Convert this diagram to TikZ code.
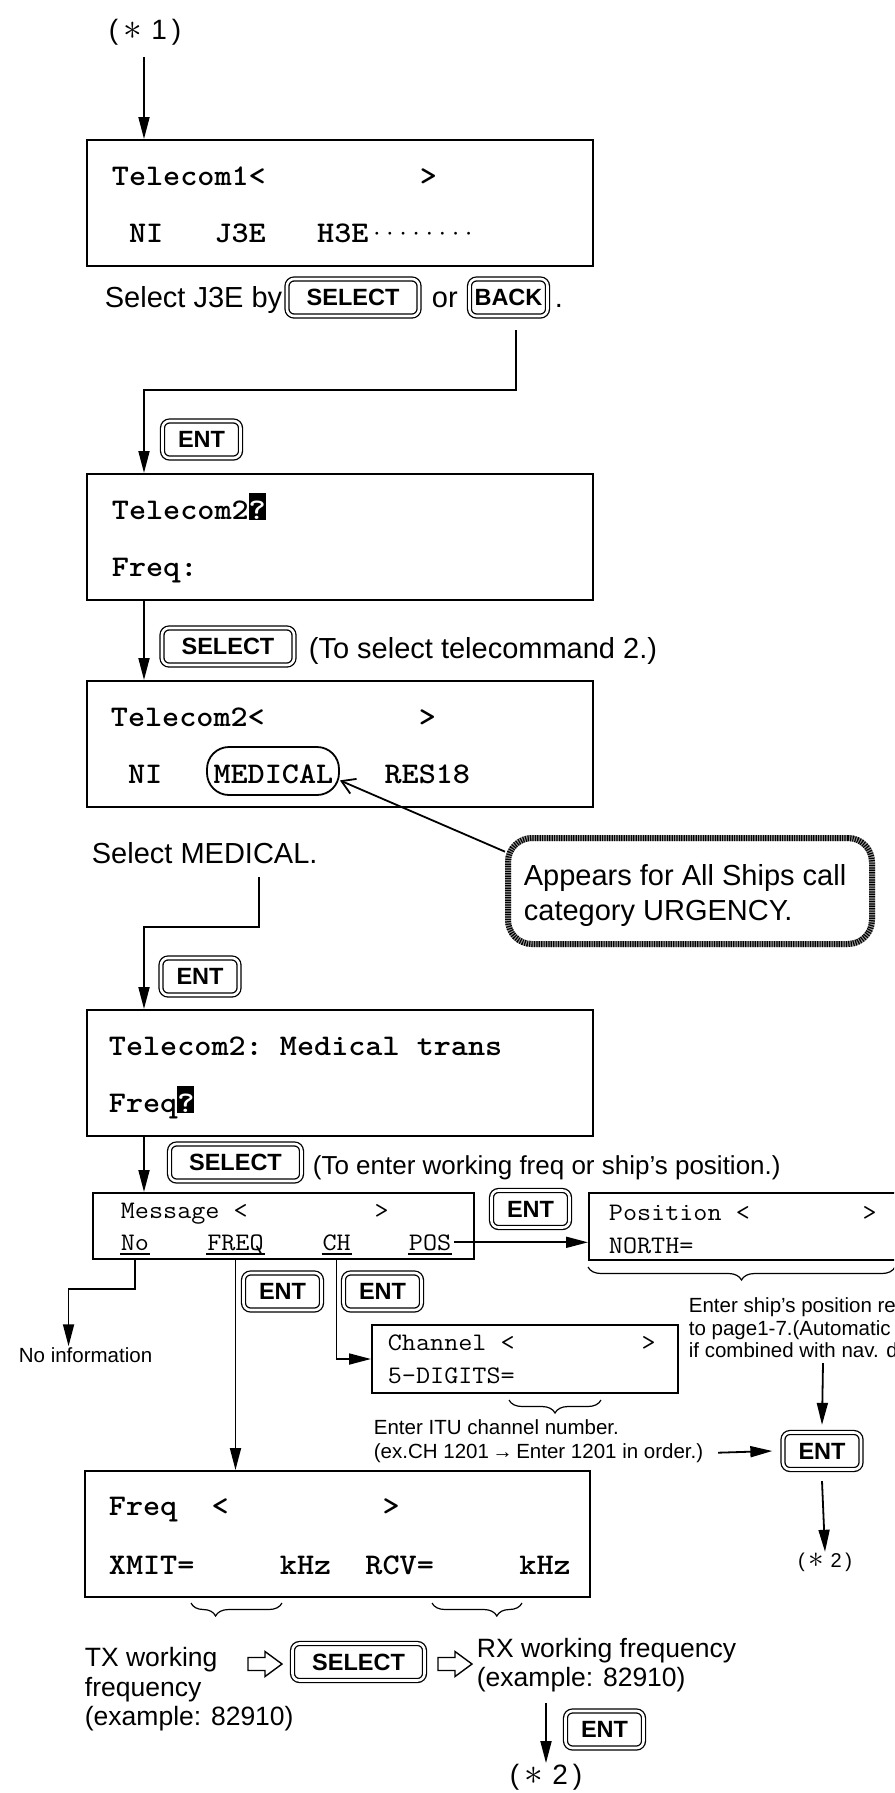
\documentclass[tikz,border=0pt]{standalone}
\usepackage{fontspec}
\usepackage{graphicx}
\setmainfont{Liberation Sans}
\usetikzlibrary{arrows.meta,decorations.pathreplacing}

% LCD lettering: typewriter face, widened to the display cell pitch
\newcommand\wide[1]{\scalebox{1.086}[1]{#1}}
% inverse-video cursor character on the LCD
\newcommand\invchar[1]{{\setlength\fboxsep{0pt}\colorbox{black}{\rule[-1pt]{0pt}{27pt}\textcolor{white}{#1}}}}
% reference marks such as (*1)
\newcommand\refmark[1]{(\hspace{0.2em}\scalebox{1.5}{$\ast$}\hspace{0.32em}#1\hspace{0.18em})}

\begin{document}
\begin{tikzpicture}[x=1pt,y=-1pt,line width=1.8pt,
  arr/.style={-{Triangle[length=22pt,width=11pt]}},
  ptr/.style={-{Straight Barb[length=13pt,width=16pt]}},
  lcdbox/.style={draw,line width=2pt,anchor=north west,inner sep=0pt,minimum width=506pt,minimum height=126pt},
  smallbox/.style={draw,line width=2pt,anchor=north west,inner sep=0pt},
  lcd/.style={anchor=base west,inner sep=0pt,font=\ttfamily\bfseries\fontsize{30}{32}\selectfont},
  lcds/.style={anchor=base west,inner sep=0pt,font=\ttfamily\fontsize{25.2}{27}\selectfont},
  lbl/.style={anchor=base west,inner sep=0pt,font=\fontsize{29}{34}\selectfont},
  lblm/.style={anchor=base west,inner sep=0pt,font=\fontsize{26.5}{30}\selectfont},
  lbls/.style={anchor=base west,inner sep=0pt,font=\fontsize{20.5}{23}\selectfont},
  refnode/.style={inner sep=0pt,font=\fontsize{28}{32}\selectfont},
  key/.style={draw,double,double distance=2.6pt,line width=1.3pt,rounded corners=7pt,
    inner sep=0pt,minimum height=37pt,font=\bfseries\fontsize{23.5}{26}\selectfont},
  entkey/.style={key,minimum width=78pt},
  selkey/.style={key,minimum width=132pt},
  brc/.style={decorate,line width=1.2pt,decoration={brace,mirror,amplitude=13pt,aspect=#1}},
  brc/.default=0.5,
  harrow/.pic={\draw[line width=1.4pt,line join=miter]
    (0,-6.5) -- (17,-6.5) -- (17,-12.5) -- (34,0) -- (17,12.5) -- (17,6.5) -- (0,6.5) -- cycle;}
]
\useasboundingbox (0,0) rectangle (894,1793);
\clip (0,0) rectangle (894,1793);
\fill[white] (0,0) rectangle (894,1793);

\coordinate (trunk) at (144,0);

% ---------- Telecom 1 ----------
\node[refnode] (star1) at (145,32) {\refmark{1}};
\node[lcdbox] (B1) at (86,139) {};
\node[lcd] (b1r1) at (111,185) {\wide{Telecom1<~~~~~~~~~>}};
\node[lcd] (b1r2) at (111,242) {\wide{~NI~~~J3E~~~H3E}};
\node[anchor=base west,inner sep=0pt,font=\ttfamily\fontsize{25.5}{27}\selectfont] (b1dots)
  at ([yshift=1pt]b1r2.base east) {········};

\node[lbl] (selj) at (104,307) {Select J3E by};
\node[selkey] (kSel1) at (353,297.5) {SELECT};
\node[lbl] (orw) at (431,307) {or};
\node[entkey] (kBack) at (508.5,297.5) {BACK};
\node[lbl] (dot1) at (554,307) {.};
\coordinate (jout) at (516,330);
\node[entkey] (kEnt1) at (201.5,439.5) {ENT};

% ---------- Telecom 2 ----------
\node[lcdbox] (B2) at (86,473) {};
\node[lcd] (b2r1) at (111,519) {\wide{Telecom2\invchar{?}}};
\node[lcd] (b2r2) at (111,576) {\wide{Freq:}};

\node[selkey] (kSel2) at (228,646.5) {SELECT};
\node[lbl] (tosel) at (308,658) {(To select telecommand 2.)};

\node[lcdbox] (B3) at (86,680) {};
\node[lcd] (b3r1) at (110,726) {\wide{Telecom2<~~~~~~~~~>}};
\node[lcd] (b3r2) at (110,783) {\wide{~NI~~~MEDICAL~~~RES18}};
\node[draw,rounded corners=22pt,minimum width=132pt,minimum height=48pt,inner sep=0pt] (oval) at (273,771) {};

\node[lbl] (selmed) at (91,863) {Select MEDICAL.};
\coordinate (medout) at (259,877);

% callout
\node[draw=black!40,line width=6pt,rounded corners=24pt,minimum width=364pt,minimum height=106pt,
  postaction={draw=black,line width=6pt,dash pattern=on 1.2pt off 1.2pt}] (callout) at (690,891) {};
\node[lbl] (ap1) at (523,885) {Appears for All Ships call};
\node[lbl] (ap2) at (523,920) {category URGENCY.};

\node[entkey] (kEnt2) at (200,976.5) {ENT};

\node[lcdbox] (B4) at (86,1009) {};
\node[lcd] (b4r1) at (108,1055) {\wide{Telecom2:~Medical~trans}};
\node[lcd] (b4r2) at (108,1112) {\wide{Freq\invchar{?}}};

\node[selkey] (kSel3) at (235.5,1162.5) {SELECT};
\node[anchor=base west,inner sep=0pt,font=\fontsize{26}{30}\selectfont] (toent) at (312,1174)
  {(To enter working freq or ship's position.)};

% ---------- Message menu ----------
\node[smallbox,minimum width=381pt,minimum height=66pt] (M) at (92,1192) {};
\node[lcds] (m1) at (120,1218) {\wide{Message~<~~~~~~~~~>}};
\node[lcds] (wNo) at (120,1250) {\wide{No}};
\node[lcds] (wFreq) at (206.4,1250) {\wide{FREQ}};
\node[lcds] (wCh) at (321.6,1250) {\wide{CH}};
\node[lcds] (wPos) at (408,1250) {\wide{POS}};
\foreach \w in {wNo,wFreq,wCh,wPos}
  \draw[line width=1.4pt] ([yshift=-4pt]\w.base west) -- ([yshift=-4pt]\w.base east);

% position entry
\node[smallbox,minimum width=340pt,minimum height=67pt] (P) at (588,1192) {};
\node[lcds] (p1) at (608,1220) {\wide{Position~<~~~~~~~~>}};
\node[lcds] (p2) at (608,1253) {\wide{NORTH=}};
\node[entkey] (kEnt3) at (530.5,1209) {ENT};
\draw[brc] (588,1267) -- (895,1267);
\node[lbls] (pos1) at (688,1312) {Enter ship's position re};
\node[lbls] (pos2) at (688,1335) {to page1-7.(Automatic};
\node[lbls] (pos3) at (688,1357) {if combined with nav. d};
\coordinate (posout) at (823,1363);
\node[entkey] (kEnt6) at (822,1451) {ENT};
\node[refnode,font=\fontsize{20}{24}\selectfont] (star2r) at (825,1562) {\refmark{2}};

% no information
\node[lbls] (noinfo) at (18,1362) {No information};

% channel entry
\node[entkey] (kEnt4) at (282.5,1291.5) {ENT};
\node[entkey] (kEnt5) at (382.5,1291.5) {ENT};
\node[smallbox,minimum width=306pt,minimum height=68pt] (C) at (371,1324) {};
\node[lcds] (c1) at (387,1350) {\wide{Channel~<~~~~~~~~~>}};
\node[lcds] (c2) at (387,1383) {\wide{5-DIGITS=}};
\draw[brc] (509,1400) -- (601,1400);
\node[lbls] (itu) at (373,1434) {Enter ITU channel number.};
\node[lbls] (exch) at (373,1458) {(ex.CH 1201\,→\,Enter 1201 in order.)};

% frequency entry
\node[lcdbox,minimum width=505pt] (F) at (84,1470) {};
\node[lcd] (f1) at (108,1515) {\wide{Freq~~<~~~~~~~~~>}};
\node[lcd] (f2) at (108,1574) {\wide{XMIT=~~~~~kHz~~RCV=~~~~~kHz}};
\draw[brc=0.27] (191,1603) -- (282,1603);
\draw[brc=0.72] (432,1603) -- (522,1603);

\node[lblm] (tx1) at (84,1666) {TX working};
\node[lblm] (tx2) at (84,1696) {frequency};
\node[lblm] (tx3) at (84,1725) {(example: 82910)};
\pic at (248,1664) {harrow};
\node[selkey] (kSel4) at (358.5,1662) {SELECT};
\pic at (438,1664) {harrow};
\node[lblm] (rx1) at (476,1657) {RX working frequency};
\node[lblm] (rx2) at (476,1686) {(example: 82910)};
\coordinate (rxout) at (546,1703);
\node[refnode] (star2b) at (546,1777) {\refmark{2}};
\node[entkey] (kEnt7) at (604.5,1729.5) {ENT};

% ---------- connectors ----------
\draw[arr,shorten <=11pt] (trunk |- star1.south) -- (trunk |- B1.north);
\draw[arr] (jout) -- ++(0,60) -| (trunk |- B2.north);
\draw[arr] (trunk |- B2.south) -- (trunk |- B3.north);
\draw[ptr] (callout.168) -- (oval.-8);
\draw[arr] (medout) -- ++(0,50) -| (trunk |- B4.north);
\draw[arr] (trunk |- B4.south) -- (trunk |- M.north);
\draw[arr] ([xshift=2pt]wPos.east) -- (P.west |- wPos.east);
\draw[arr] (posout) -- ([yshift=7pt]kEnt6.north);
\draw[arr] ([yshift=-11pt]kEnt6.south) -- (star2r.north);
\draw[arr] (wNo |- M.south) -- ++(0,29) -| ([xshift=-17pt]noinfo.north);
\draw[arr] (wCh |- M.south) |- (C.west);
\draw[arr] ([xshift=14pt]exch.east) -- ([xshift=-10pt]kEnt6.west);
\draw[arr] (wFreq |- M.south) -- (wFreq |- F.north);
\draw[arr] (rxout) -- (star2b.north);
\end{tikzpicture}
\end{document}
